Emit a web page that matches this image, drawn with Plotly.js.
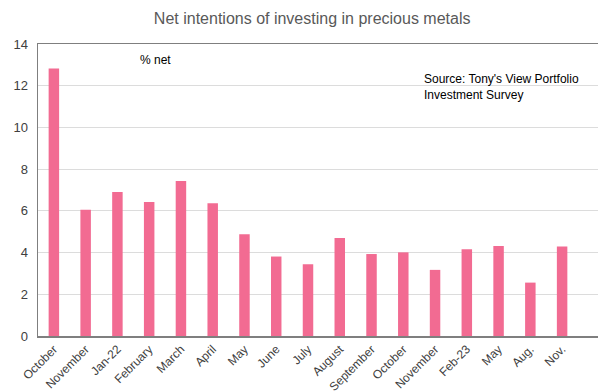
<!DOCTYPE html>
<html>
<head>
<meta charset="utf-8">
<script src="https://cdn.plot.ly/plotly-3.0.1.min.js"></script>
<style>html,body{margin:0;padding:0;background:#fff;}</style>
</head>
<body>
<div id="chart" style="width:598px;height:392px;"></div>
<script>
const periods = ["October","November","Jan-22","February","March","April","May","June","July","August","September","October","November","Feb-23","May","Aug.","Nov."];
const netIntentions = [12.83, 6.05, 6.9, 6.43, 7.43, 6.37, 4.88, 3.81, 3.44, 4.7, 3.93, 4.01, 3.17, 4.16, 4.32, 2.56, 4.29];
const yTicks = [0, 2, 4, 6, 8, 10, 12, 14];

const idx = periods.map((_, i) => i);

const trace = {
  type: 'bar',
  x: idx,
  y: netIntentions,
  marker: { color: '#F26B92' },
  width: 0.33,
  hoverinfo: 'skip'
};

const layout = {
  width: 598,
  height: 392,
  margin: { l: 38, r: 0, t: 44, b: 56, pad: 0 },
  paper_bgcolor: '#ffffff',
  plot_bgcolor: '#ffffff',
  font: { family: 'Liberation Sans, Arial, sans-serif', size: 12, color: '#404040' },
  showlegend: false,
  title: {
    text: 'Net intentions of investing in precious metals',
    font: { family: 'Liberation Sans, Arial, sans-serif', size: 16, color: '#595959' },
    xref: 'container', x: 0.522, xanchor: 'center',
    yref: 'container', y: 0.954, yanchor: 'middle'
  },
  xaxis: {
    range: [-0.5, 17.13],
    tickvals: idx,
    ticktext: periods,
    tickangle: -45,
    ticks: '',
    showgrid: false,
    zeroline: false,
    showline: true,
    linecolor: '#7f7f7f',
    linewidth: 1.5,
    mirror: true,
    tickfont: { size: 12, color: '#404040' },
    fixedrange: true
  },
  yaxis: {
    range: [0, 14],
    tickvals: yTicks,
    ticks: '',
    ticklen: 0,
    ticklabelstandoff: 6,
    showgrid: true,
    gridcolor: '#dcdcdc',
    gridwidth: 1,
    zeroline: false,
    showline: true,
    linecolor: '#7f7f7f',
    linewidth: 1.5,
    tickfont: { size: 13, color: '#404040' },
    fixedrange: true
  },
  annotations: [
    {
      text: '% net',
      xref: 'paper', yref: 'paper',
      x: 0.1786, y: 0.945, xanchor: 'left', yanchor: 'middle',
      showarrow: false,
      font: { size: 12, color: '#000000' }
    },
    {
      text: "Source: Tony's View Portfolio<br>Investment Survey",
      xref: 'paper', yref: 'paper',
      x: 0.686, y: 0.853, xanchor: 'left', yanchor: 'middle',
      align: 'left',
      showarrow: false,
      font: { size: 12, color: '#000000' }
    }
  ]
};

Plotly.newPlot('chart', [trace], layout, { staticPlot: true, displayModeBar: false });
</script>
</body>
</html>
